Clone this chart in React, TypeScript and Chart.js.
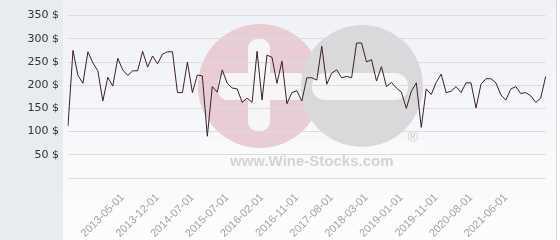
import React, { useEffect, useRef } from "react";
import { Chart, registerables } from "chart.js";

Chart.register(...registerables);

const dates: string[] = [
  "2012-06-01", "2012-07-01", "2012-08-01", "2012-09-01", "2012-10-01", "2012-11-01",
  "2012-12-01", "2013-01-01", "2013-02-01", "2013-03-01", "2013-04-01", "2013-05-01",
  "2013-06-01", "2013-07-01", "2013-08-01", "2013-09-01", "2013-10-01", "2013-11-01",
  "2013-12-01", "2014-01-01", "2014-02-01", "2014-03-01", "2014-04-01", "2014-05-01",
  "2014-06-01", "2014-07-01", "2014-09-01", "2014-11-01", "2015-01-01", "2015-03-01",
  "2015-05-01", "2015-06-01", "2015-07-01", "2015-08-01", "2015-09-01", "2015-10-01",
  "2015-11-01", "2015-12-01", "2016-01-01", "2016-02-01", "2016-04-01", "2016-05-01",
  "2016-06-01", "2016-08-01", "2016-09-01", "2016-10-01", "2016-11-01", "2016-12-01",
  "2017-01-01", "2017-03-01", "2017-04-01", "2017-05-01", "2017-07-01", "2017-08-01",
  "2017-09-01", "2017-10-01", "2017-11-01", "2017-12-01", "2018-01-01", "2018-02-01",
  "2018-03-01", "2018-04-01", "2018-06-01", "2018-07-01", "2018-09-01", "2018-10-01",
  "2018-12-01", "2019-01-01", "2019-02-01", "2019-04-01", "2019-05-01", "2019-07-01",
  "2019-08-01", "2019-10-01", "2019-11-01", "2019-12-01", "2020-01-01", "2020-03-01",
  "2020-04-01", "2020-05-01", "2020-07-01", "2020-08-01", "2020-09-01", "2020-11-01",
  "2020-12-01", "2021-02-01", "2021-03-01", "2021-05-01", "2021-06-01", "2021-07-01",
  "2021-08-01", "2021-10-01", "2021-11-01", "2022-01-01", "2022-02-01", "2022-04-01",
  "2022-05-01",
];

const prices: number[] = [
  112, 275, 221, 204, 272, 248, 231, 166, 217, 198, 258, 233,
  221, 231, 231, 273, 239, 263, 246, 267, 272, 272, 184, 184,
  250, 184, 222, 220, 90, 197, 185, 233, 204, 194, 192, 163,
  172, 163, 273, 168, 265, 260, 204, 252, 160, 184, 188, 166,
  216, 216, 211, 284, 202, 226, 233, 216, 219, 216, 291, 291,
  250, 255, 209, 240, 197, 206, 194, 185, 150, 187, 205, 109,
  192, 180, 206, 224, 184, 187, 197, 184, 205, 205, 151, 202,
  214, 214, 205, 179, 168, 192, 197, 182, 184, 177, 163, 172,
  219,
];

const shownDates: string[] = [
  "2013-05-01", "2013-12-01", "2014-07-01", "2015-07-01", "2016-02-01", "2016-11-01",
  "2017-08-01", "2018-03-01", "2019-01-01", "2019-11-01", "2020-08-01", "2021-06-01",
];

const yTicks: number[] = [0, 50, 100, 150, 200, 250, 300, 350];
const watermarkText = "www.Wine-Stocks.com";

function rr(ctx: CanvasRenderingContext2D, x: number, y: number, w: number, h: number, r: number) {
  ctx.beginPath();
  ctx.moveTo(x + r, y);
  ctx.lineTo(x + w - r, y);
  ctx.arcTo(x + w, y, x + w, y + r, r);
  ctx.lineTo(x + w, y + h - r);
  ctx.arcTo(x + w, y + h, x + w - r, y + h, r);
  ctx.lineTo(x + r, y + h);
  ctx.arcTo(x, y + h, x, y + h - r, r);
  ctx.lineTo(x, y + r);
  ctx.arcTo(x, y, x + r, y, r);
  ctx.closePath();
}

const backgroundPlugin = {
  id: "bgWatermark",
  beforeDraw(chart: any) {
    const ctx: CanvasRenderingContext2D = chart.ctx;
    const W = chart.width;
    const H = chart.height;
    ctx.save();
    ctx.fillStyle = "#e8ecef";
    ctx.fillRect(0, 0, W, H);
    const g = ctx.createLinearGradient(0, 0, 0, H);
    g.addColorStop(0, "#f0f1f6");
    g.addColorStop(1, "#fdfdfe");
    ctx.fillStyle = g;
    ctx.fillRect(63, 0, 494, H);
    ctx.fillStyle = "#ffffff";
    ctx.fillRect(557, 0, W - 557, H);
    ctx.strokeStyle = "#d6d9dd";
    ctx.lineWidth = 1;
    ctx.beginPath();
    ctx.moveTo(556.5, 0);
    ctx.lineTo(556.5, H);
    ctx.stroke();

    // watermark
    ctx.fillStyle = "rgba(250,250,252,0.8)";
    ctx.fillRect(198, 140, 225, 33);
    ctx.fillStyle = "#e9cdd4";
    ctx.beginPath();
    ctx.arc(260, 86, 62, 0, Math.PI * 2);
    ctx.fill();
    ctx.fillStyle = "#f6f6f9";
    rr(ctx, 248, 39, 22, 92, 9);
    ctx.fill();
    rr(ctx, 218, 73, 90, 27, 9);
    ctx.fill();
    ctx.fillStyle = "#d9d9db";
    ctx.beginPath();
    ctx.arc(362, 86, 61, 0, Math.PI * 2);
    ctx.fill();
    ctx.fillStyle = "#f6f6f9";
    rr(ctx, 312, 73, 96, 27, 13);
    ctx.fill();
    ctx.fillStyle = "#d3d3d5";
    ctx.font = "bold 15px 'Liberation Sans', Arial, sans-serif";
    ctx.textBaseline = "alphabetic";
    ctx.textAlign = "left";
    ctx.fillText(watermarkText, 230, 166);
    ctx.font = "14px 'Liberation Sans', Arial, sans-serif";
    ctx.fillStyle = "#cdcdcf";
    ctx.textAlign = "center";
    ctx.textBaseline = "middle";
    ctx.fillText("®", 413, 138);
    ctx.restore();
  },
};

export default function App() {
  const ref = useRef<HTMLCanvasElement | null>(null);
  useEffect(() => {
    if (!ref.current) return;
    const chart = new Chart(ref.current, {
      type: "line",
      data: {
        labels: dates,
        datasets: [
          {
            data: prices,
            borderColor: "#3b1f2b",
            borderWidth: 1,
            pointRadius: 0,
            tension: 0,
            fill: false,
          },
        ],
      },
      options: {
        responsive: false,
        animation: false,
        events: [],
        layout: { padding: { top: 6, right: 5, left: 0, bottom: 0 } },
        plugins: { legend: { display: false }, tooltip: { enabled: false } },
        scales: {
          x: {
            grid: { display: false },
            border: { display: false },
            afterFit: (s: any) => {
              s.height = 62;
            },
            ticks: {
              autoSkip: false,
              minRotation: 45,
              maxRotation: 45,
              padding: 5,
              color: "#a3a3a3",
              font: { family: "'Liberation Sans', Arial, sans-serif", size: 11 },
              callback: (_v: any, i: number) => (shownDates.includes(dates[i]) ? dates[i] : ""),
            },
          },
          y: {
            min: yTicks[0],
            max: yTicks[yTicks.length - 1],
            afterFit: (s: any) => {
              s.width = 68;
            },
            afterBuildTicks: (s: any) => {
              s.ticks = yTicks.map((v) => ({ value: v }));
            },
            grid: { color: "#dcdcdf", drawTicks: false, lineWidth: 1 },
            border: { display: false },
            ticks: {
              padding: 9,
              color: "#333333",
              font: { family: "'DejaVu Sans', sans-serif", size: 11 },
              callback: (v: any) => (v === 0 ? "" : `${v} $`),
            },
          },
        },
      },
      plugins: [backgroundPlugin],
    });
    return () => chart.destroy();
  }, []);
  return (
    <div style={{ position: "absolute", left: 0, top: 0, width: 560, height: 240 }}>
      <canvas ref={ref} width={560} height={240} style={{ display: "block", width: 560, height: 240 }} />
    </div>
  );
}
